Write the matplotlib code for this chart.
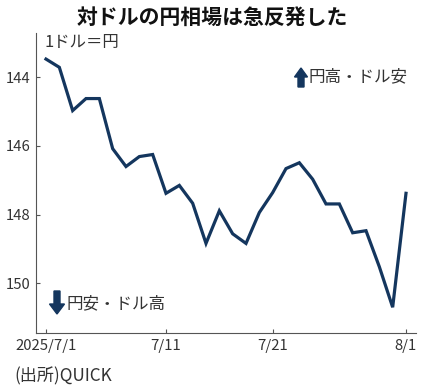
import matplotlib
matplotlib.use("Agg")
import matplotlib.pyplot as plt
from matplotlib.patches import FancyArrow

plt.rcParams['font.family'] = ['Noto Sans CJK JP', 'DejaVu Sans']

# Yen per dollar, trading-day index
rates = [143.47, 143.71, 144.97, 144.62, 144.62, 146.08, 146.60, 146.31,
         146.25, 147.38, 147.15, 147.67, 148.84, 147.89, 148.56, 148.84,
         147.94, 147.36, 146.66, 146.49, 146.97, 147.69, 147.69, 148.53,
         148.47, 149.52, 150.70, 147.38]
tick_pos = [0, 9, 17, 27]
tick_labels = ["2025/7/1", "7/11", "7/21", "8/1"]
y_ticks = [144, 146, 148, 150]

navy = "#14365e"
gray = "#555555"

fig = plt.figure(figsize=(4.25, 3.92), dpi=100)
ax = fig.add_axes([36/425, 1-333/392, 380/425, 300/392])

x = list(range(len(rates)))
ax.plot(x, rates, color=navy, lw=2.3, solid_joinstyle='miter')

ax.set_xlim(-0.75, 27.75)
ax.set_ylim(151.45, 142.71)
ax.set_yticks(y_ticks)
ax.set_yticklabels([str(v) for v in y_ticks])
ax.set_xticks(tick_pos)
ax.set_xticklabels(tick_labels)

for s in ['top', 'right']:
    ax.spines[s].set_visible(False)
for s in ['left', 'bottom']:
    ax.spines[s].set_color(gray)
    ax.spines[s].set_linewidth(0.8)
ax.tick_params(direction='in', length=3, width=0.8, color=gray,
               labelsize=10.7, labelcolor='#333333', pad=4)

fig.text(0.5, 1-17/392, "対ドルの円相場は急反発した", ha='center', va='center',
         fontsize=15, fontweight='bold', color='#111111')
fig.text(44/425, 1-42/392, "1ドル＝円", ha='left', va='center',
         fontsize=11.8, color='#333333')

# up arrow + label
fig.patches.append(FancyArrow(301/425, 1-87/392, 0, 19/392, width=6/425,
                              head_width=13/425, head_length=9/392,
                              length_includes_head=True, color=navy,
                              transform=fig.transFigure, figure=fig))
fig.text(308/425, 1-77/392, "円高・ドル安", ha='left', va='center',
         fontsize=11.9, color='#333333')
# down arrow + label
fig.patches.append(FancyArrow(57/425, 1-291/392, 0, -23/392, width=6/425,
                              head_width=15/425, head_length=10/392,
                              length_includes_head=True, color=navy,
                              transform=fig.transFigure, figure=fig))
fig.text(67/425, 1-304/392, "円安・ドル高", ha='left', va='center',
         fontsize=11.9, color='#333333')

fig.text(14/425, 1-376/392, "(出所)QUICK", ha='left', va='center',
         fontsize=12.3, color='#333333')

fig.savefig("out.png", dpi=100)
